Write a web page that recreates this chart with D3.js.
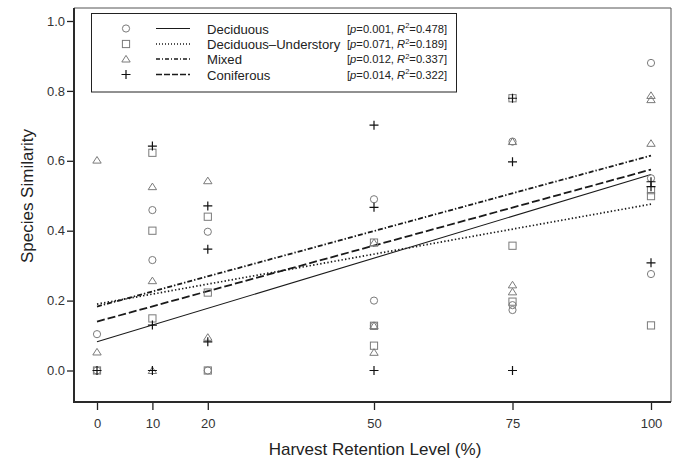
<!DOCTYPE html>
<html><head><meta charset="utf-8">
<script src="https://cdn.jsdelivr.net/npm/d3@7"></script>
<style>body{margin:0;background:#fff}svg{display:block}text{font-family:"Liberation Sans",Arial,sans-serif}</style>
</head><body><svg id="c" width="675" height="459"></svg>
<script>
const xTicks = [0, 10, 20, 50, 75, 100];
const yTicks = [0, 0.2, 0.4, 0.6, 0.8, 1.0];
const groups = ["Deciduous", "Deciduous\u2013Understory", "Mixed", "Coniferous"];
const pVals = ["0.001", "0.071", "0.012", "0.014"];
const r2Vals = ["0.478", "0.189", "0.337", "0.322"];
// fitted line values at x=0 and x=100
const fitStart = [0.082, 0.19, 0.183, 0.14];
const fitEnd = [0.561, 0.476, 0.615, 0.575];
// observed points [retention, similarity]
const deciduousPts = [[0,0.104],[0,0],[10,0.459],[10,0.316],[20,0.397],[20,0],[50,0.49],[50,0.20],[50,0.128],[75,0.655],[75,0.187],[75,0.173],[100,0.88],[100,0.55],[100,0.276]];
const understoryPts = [[0,0],[10,0.623],[10,0.40],[10,0.149],[20,0.44],[20,0.223],[20,0],[50,0.366],[50,0.128],[50,0.071],[75,0.779],[75,0.357],[75,0.197],[100,0.516],[100,0.499],[100,0.129]];
const mixedPts = [[0,0.602],[0,0.053],[10,0.526],[10,0.257],[10,0],[20,0.543],[20,0.095],[50,0.366],[50,0.128],[50,0.052],[75,0.655],[75,0.245],[75,0.225],[100,0.787],[100,0.775],[100,0.65]];
const coniferousPts = [[0,0],[10,0.642],[10,0.130],[10,0],[20,0.471],[20,0.347],[20,0.082],[50,0.702],[50,0.467],[50,0],[75,0.779],[75,0.597],[75,0],[100,0.54],[100,0.526],[100,0.308]];

const svg = d3.select("#c");
const L = 74, R = 671, T = 8, B = 402;
const x = d3.scaleLinear().domain([0, 100]).range([97, 651]);
const y = d3.scaleLinear().domain([0, 1]).range([370.5, 21]);

// frame top/right
svg.append("path").attr("d", `M${L},${T}H${R}V${B}`).attr("fill","none").attr("stroke","#555").attr("stroke-width",1);

// axes
const yAxis = svg.append("g").attr("transform", `translate(${L},0)`)
  .call(d3.axisLeft(y).tickValues(yTicks).tickFormat(d3.format(".1f")).tickSize(7).tickSizeOuter(0));
const xAxis = svg.append("g").attr("transform", `translate(0,${B})`)
  .call(d3.axisBottom(x).tickValues(xTicks).tickFormat(d3.format("d")).tickSize(8).tickSizeOuter(0));
[yAxis, xAxis].forEach(g => {
  g.select(".domain").remove();
  g.selectAll(".tick line").attr("stroke","#222").attr("stroke-width",1.3);
  g.selectAll(".tick text").attr("fill","#333").style("font-size","13px");
});
yAxis.selectAll(".tick text").attr("x", -9);
xAxis.selectAll(".tick text").attr("y", 17);
svg.append("path").attr("d", `M${L},${T}V${B}H${R}`).attr("fill","none").attr("stroke","#2a2a2a").attr("stroke-width",2);

// titles
svg.append("text").attr("x", 375).attr("y", 455).attr("text-anchor","middle").style("font-size","17px").attr("fill","#222").text("Harvest Retention Level (%)");
svg.append("text").attr("transform","translate(33,196) rotate(-90)").attr("text-anchor","middle").style("font-size","17px").attr("fill","#222").text("Species Similarity");

// symbols
const grayS = "#7a7a7a";
function drawSym(g, type, cx, cy) {
  if (type === 0) g.append("circle").attr("cx",cx).attr("cy",cy).attr("r",3.6).attr("fill","none").attr("stroke",grayS).attr("stroke-width",1);
  else if (type === 1) g.append("rect").attr("x",cx-3.6).attr("y",cy-3.6).attr("width",7.2).attr("height",7.2).attr("fill","none").attr("stroke",grayS).attr("stroke-width",1);
  else if (type === 2) g.append("path").attr("d",`M${cx},${cy-3.6}L${cx+4.2},${cy+3}L${cx-4.2},${cy+3}Z`).attr("fill","none").attr("stroke",grayS).attr("stroke-width",1);
  else g.append("path").attr("d",`M${cx-4.5},${cy}H${cx+4.5}M${cx},${cy-4.5}V${cy+4.5}`).attr("fill","none").attr("stroke","#111").attr("stroke-width",1.2);
}
const dashes = [null, "1.4,2.2", "5,2,1.4,2", "8,3"];
const widths = [1.1, 1.7, 1.8, 1.8];

// fit lines
groups.forEach((gname, i) => {
  svg.append("line").attr("x1", x(0)).attr("y1", y(fitStart[i])).attr("x2", x(100)).attr("y2", y(fitEnd[i]))
    .attr("stroke", "#1a1a1a").attr("stroke-width", widths[i]).attr("stroke-dasharray", dashes[i]);
});

// points
const pg = svg.append("g");
[deciduousPts, understoryPts, mixedPts, coniferousPts].forEach((pts, i) => {
  pts.forEach(p => drawSym(pg, i, x(p[0]), y(p[1])));
});

// legend
const lg = svg.append("g");
lg.append("rect").attr("x", 91.5).attr("y", 13.5).attr("width", 365).attr("height", 78.5).attr("fill","#fff").attr("stroke","#222").attr("stroke-width",1);
const rowY = [28.5, 44, 59, 74.5];
groups.forEach((gname, i) => {
  const ry = rowY[i];
  drawSym(lg, i, 126, ry);
  lg.append("line").attr("x1",156).attr("x2",190).attr("y1",ry).attr("y2",ry).attr("stroke","#1a1a1a").attr("stroke-width", i===0?1.1:1.3).attr("stroke-dasharray", i===1?"1,2":(i===2?"4,2,1,2":(i===3?"6,2":null)));
  lg.append("text").attr("x",207).attr("y",ry+5).style("font-size","13.1px").attr("fill","#222").text(gname);
  const t = lg.append("text").attr("x",347).attr("y",ry+4).style("font-size","11.2px").attr("fill","#222");
  t.append("tspan").text("[");
  t.append("tspan").style("font-style","italic").text("p");
  t.append("tspan").text("=" + pVals[i] + ", ");
  t.append("tspan").style("font-style","italic").text("R");
  t.append("tspan").attr("dy",-4.5).style("font-size","7.5px").text("2");
  t.append("tspan").attr("dy",4.5).text("=" + r2Vals[i] + "]");
});
</script></body></html>
